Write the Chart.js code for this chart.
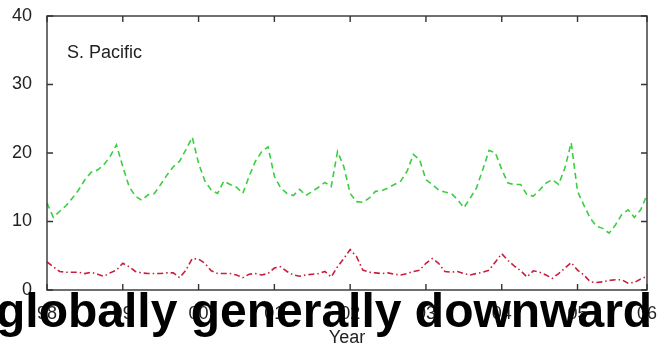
<!DOCTYPE html>
<html>
<head>
<meta charset="utf-8">
<script src="https://cdn.jsdelivr.net/npm/chart.js@4.4.1/dist/chart.umd.min.js"></script>
<style>
    html, body { margin: 0; padding: 0; background: #fff; }
    canvas { display: block; }
</style>
</head>
<body>
<canvas id="graphic-sPacific" width="658" height="347"></canvas>
<script>
// monthly values, Jan 1998 .. Dec 2005
const months = Array.from({ length: 96 }, (_, i) => i);

const greenSeries = [
    12.7, 10.6, 11.5, 12.3, 13.4, 14.6, 16.1, 17.2, 17.5, 18.3, 19.5, 21.2,
    18.0, 15.1, 13.7, 13.1, 13.9, 14.1, 15.4, 16.8, 18.0, 18.8, 20.5, 22.3,
    18.5, 15.9, 14.6, 14.1, 15.9, 15.4, 15.0, 14.1, 16.6, 18.8, 20.2, 20.9,
    16.6, 14.9, 14.1, 13.8, 14.7, 13.8, 14.4, 15.0, 15.7, 15.1, 20.2, 18.0,
    14.1, 12.9, 12.8, 13.4, 14.4, 14.5, 14.9, 15.4, 15.9, 17.3, 19.8, 19.0,
    16.1, 15.4, 14.6, 14.3, 14.1, 13.2, 12.0, 13.4, 14.9, 17.6, 20.4, 20.0,
    17.6, 15.6, 15.4, 15.4, 13.9, 13.7, 14.6, 15.6, 16.1, 15.4, 17.8, 21.5,
    14.4, 12.4, 10.5, 9.3, 9.0, 8.3, 9.5, 11.0, 11.7, 10.6, 11.7, 13.9
];

const redSeries = [
    4.1, 3.4, 2.7, 2.6, 2.6, 2.6, 2.4, 2.6, 2.3, 2.0, 2.5, 2.9,
    3.9, 3.4, 2.7, 2.5, 2.4, 2.4, 2.4, 2.5, 2.5, 1.8, 2.9, 4.6,
    4.5, 3.9, 2.8, 2.4, 2.4, 2.4, 2.2, 1.8, 2.3, 2.4, 2.2, 2.4,
    3.2, 3.4, 2.7, 2.2, 2.0, 2.2, 2.3, 2.4, 2.7, 1.9, 3.4, 4.6,
    5.9, 4.9, 2.9, 2.6, 2.5, 2.4, 2.5, 2.3, 2.2, 2.4, 2.7, 2.9,
    3.9, 4.6, 3.9, 2.7, 2.6, 2.7, 2.4, 2.2, 2.4, 2.6, 2.9, 4.1,
    5.3, 4.3, 3.5, 2.8, 1.9, 2.8, 2.6, 2.2, 1.7, 2.4, 3.2, 4.0,
    2.9, 2.2, 1.2, 1.1, 1.2, 1.4, 1.5, 1.5, 1.0, 1.1, 1.6, 2.0
];

// x ticks at each January, last one closes the axis
const yearTicks = [0, 12, 24, 36, 48, 60, 72, 84, 95];
const yearLabels = ['98', '99', '00', '01', '02', '03', '04', '05', '06'];
const yTicks = [0, 10, 20, 30, 40];

const FONT = '"Liberation Sans", Arial, Helvetica, sans-serif';
const AXIS_COLOR = '#333333';

// matlab style box with inward ticks, region name and caption on top
const boxPlugin = {
    id: 'boxPlugin',
    afterDraw(chart) {
        const ctx = chart.ctx;
        const area = chart.chartArea;
        const xs = chart.scales.x;
        const ys = chart.scales.y;
        const tick = 6;

        ctx.save();
        ctx.strokeStyle = AXIS_COLOR;
        ctx.lineWidth = 1.4;
        ctx.strokeRect(area.left, area.top, area.right - area.left, area.bottom - area.top);

        ctx.beginPath();
        yearTicks.forEach(v => {
            const px = xs.getPixelForValue(v);
            ctx.moveTo(px, area.bottom);
            ctx.lineTo(px, area.bottom - tick);
            ctx.moveTo(px, area.top);
            ctx.lineTo(px, area.top + tick);
        });
        yTicks.forEach(v => {
            const py = ys.getPixelForValue(v);
            ctx.moveTo(area.left, py);
            ctx.lineTo(area.left + tick, py);
            ctx.moveTo(area.right, py);
            ctx.lineTo(area.right - tick, py);
        });
        ctx.stroke();

        ctx.fillStyle = '#222';
        ctx.font = '18px ' + FONT;
        ctx.textAlign = 'left';
        ctx.textBaseline = 'alphabetic';
        ctx.fillText('S. Pacific', 67, 57.5);

        ctx.fillStyle = '#000';
        ctx.font = 'bold 48px ' + FONT;
        ctx.fillText('globally generally downward', -4, 327);
        ctx.restore();
    }
};

const dataGraphic = document.getElementById('graphic-sPacific');

var chartPacific = new Chart(dataGraphic, {
    type: 'line',
    data: {
        labels: months,
        datasets: [
            {
                label: 'green',
                data: greenSeries,
                borderColor: '#3acf3e',
                borderWidth: 1.6,
                borderDash: [6, 4],
                pointRadius: 0,
                tension: 0,
                fill: false
            },
            {
                label: 'red',
                data: redSeries,
                borderColor: '#c81e3c',
                borderWidth: 1.6,
                borderDash: [6, 3, 1.5, 3],
                pointRadius: 0,
                tension: 0,
                fill: false
            }
        ]
    },
    options: {
        responsive: false,
        maintainAspectRatio: false,
        animation: false,
        layout: {
            padding: { top: 16, right: 11, left: 0, bottom: 0 }
        },
        scales: {
            x: {
                type: 'linear',
                min: 0,
                max: 95,
                grid: { display: false },
                border: { display: false },
                afterBuildTicks: scale => {
                    scale.ticks = yearTicks.map(v => ({ value: v }));
                },
                afterFit: scale => {
                    scale.height = 57;
                    // let the end labels hang over the box edges
                    scale.paddingLeft = 0;
                    scale.paddingRight = 0;
                },
                ticks: {
                    autoSkip: false,
                    maxRotation: 0,
                    padding: 5,
                    color: '#222',
                    font: { family: FONT, size: 18 },
                    callback: (v) => yearLabels[yearTicks.indexOf(v)]
                },
                title: {
                    display: true,
                    text: 'Year',
                    color: '#222',
                    padding: 0,
                    font: { family: FONT, size: 18, lineHeight: 1 }
                }
            },
            y: {
                min: 0,
                max: 40,
                grid: { display: false },
                border: { display: false },
                afterFit: scale => {
                    scale.width = 47;
                    scale.paddingTop = 0;
                    scale.paddingBottom = 0;
                },
                ticks: {
                    stepSize: 10,
                    padding: 7,
                    color: '#222',
                    font: { family: FONT, size: 18 }
                }
            }
        },
        plugins: {
            legend: { display: false },
            tooltip: { enabled: false }
        }
    },
    plugins: [boxPlugin]
});
</script>
</body>
</html>
